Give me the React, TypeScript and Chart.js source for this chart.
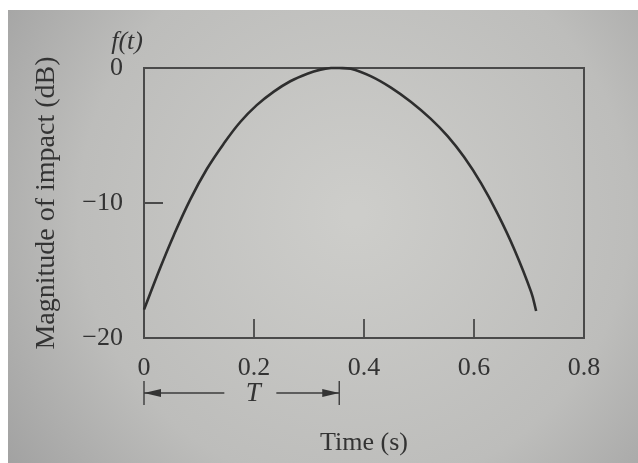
import React, { useEffect, useRef } from "react";
import { Chart, registerables } from "chart.js";

Chart.register(...registerables);

// ---- data ----
const timeS = [
  0, 0.029, 0.054, 0.084, 0.114, 0.145, 0.175, 0.205, 0.236, 0.266, 0.297, 0.321,
  0.34, 0.355, 0.376, 0.412, 0.449, 0.485, 0.521, 0.552, 0.582, 0.613, 0.643,
  0.673, 0.704, 0.713,
];
const magnitudeDb = [
  -17.9, -14.85, -12.4, -9.75, -7.5, -5.6, -4.0, -2.75, -1.75, -0.98, -0.42, -0.12,
  0, 0, -0.05, -0.6, -1.45, -2.5, -3.75, -5.05, -6.6, -8.55, -10.8, -13.4,
  -16.6, -18.0,
];
const xTicks = [0, 0.2, 0.4, 0.6, 0.8];
const yTicks = [0, -10, -20];
const T_PEAK = 0.355;
const xTitle = "Time (s)";
const yTitle = "Magnitude of impact (dB)";
const fLabel = "f(t)";
const tLabel = "T";

const INK = "#333333";
const SERIF = '"Liberation Serif", "DejaVu Serif", serif';

const bgPlugin = {
  id: "bgPhoto",
  beforeDraw(chart: any) {
    const { ctx, width, height } = chart;
    const g = ctx.createRadialGradient(width * 0.55, height * 0.45, 10, width * 0.55, height * 0.45, width * 0.72);
    g.addColorStop(0, "#cdcdca");
    g.addColorStop(0.6, "#bdbdbb");
    g.addColorStop(1, "#9d9d9d");
    ctx.save();
    ctx.fillStyle = g;
    ctx.fillRect(0, 0, width, height);
    ctx.restore();
  },
};

const framePlugin = {
  id: "frameTicks",
  beforeDatasetsDraw(chart: any) {
    const { ctx, chartArea: a, scales } = chart;
    ctx.save();
    ctx.strokeStyle = "#4a4a4a";
    ctx.lineWidth = 2;
    ctx.strokeRect(a.left, a.top, a.right - a.left, a.bottom - a.top);
    ctx.lineWidth = 1.8;
    ctx.beginPath();
    xTicks.forEach((v) => {
      const px = scales.x.getPixelForValue(v);
      ctx.moveTo(px, a.bottom);
      ctx.lineTo(px, a.bottom - 19);
    });
    yTicks.forEach((v) => {
      const py = scales.y.getPixelForValue(v);
      ctx.moveTo(a.left, py);
      ctx.lineTo(a.left + 19, py);
    });
    ctx.stroke();
    ctx.restore();
  },
};

const annotPlugin = {
  id: "annot",
  afterDraw(chart: any) {
    const { ctx, chartArea: a, scales } = chart;
    ctx.save();
    ctx.fillStyle = INK;
    ctx.strokeStyle = "#3c3c3c";
    // f(t) label
    ctx.font = `italic 26px ${SERIF}`;
    ctx.textAlign = "right";
    ctx.textBaseline = "middle";
    ctx.fillText(fLabel, a.left - 1, a.top - 26);

    // T arrow
    const y = a.bottom + 55;
    const x0 = scales.x.getPixelForValue(0);
    const x1 = scales.x.getPixelForValue(T_PEAK);
    const tx = x0 + (x1 - x0) * 0.56;
    ctx.lineWidth = 1.4;
    ctx.beginPath();
    ctx.moveTo(x0, y - 12);
    ctx.lineTo(x0, y + 12);
    ctx.moveTo(x1, y - 12);
    ctx.lineTo(x1, y + 12);
    ctx.moveTo(x0, y);
    ctx.lineTo(tx - 29, y);
    ctx.moveTo(tx + 23, y);
    ctx.lineTo(x1, y);
    ctx.stroke();
    ctx.beginPath();
    ctx.moveTo(x0, y);
    ctx.lineTo(x0 + 17, y - 4);
    ctx.lineTo(x0 + 17, y + 4);
    ctx.closePath();
    ctx.moveTo(x1, y);
    ctx.lineTo(x1 - 17, y - 4);
    ctx.lineTo(x1 - 17, y + 4);
    ctx.closePath();
    ctx.fill();
    ctx.font = `italic 27px ${SERIF}`;
    ctx.textAlign = "center";
    ctx.fillText(tLabel, tx, y + 1);
    ctx.restore();
  },
};

export default function App() {
  const ref = useRef<HTMLCanvasElement | null>(null);

  useEffect(() => {
    if (!ref.current) return;
    const chart = new Chart(ref.current, {
      type: "line",
      data: {
        datasets: [
          {
            data: timeS.map((t, i) => ({ x: t, y: magnitudeDb[i] })),
            borderColor: "#2e2e2e",
            borderWidth: 2.6,
            pointRadius: 0,
            tension: 0.4,
            fill: false,
            clip: false as any,
          },
        ],
      },
      options: {
        animation: false,
        responsive: false,
        layout: { padding: { top: 58, right: 54, left: 0, bottom: 0 } },
        plugins: { legend: { display: false }, tooltip: { enabled: false } },
        scales: {
          x: {
            type: "linear",
            min: 0,
            max: 0.8,
            grid: { display: false },
            border: { display: false },
            afterBuildTicks: (s: any) => {
              s.ticks = xTicks.map((v) => ({ value: v }));
            },
            afterFit: (s: any) => {
              s.height = 125;
            },
            ticks: {
              padding: 7,
              color: INK,
              font: { family: SERIF, size: 26 },
              callback: (v: any) => (Number(v) === 0 ? "0" : Number(v).toFixed(1)),
            },
            title: {
              display: true,
              text: xTitle,
              color: INK,
              font: { family: SERIF, size: 26, lineHeight: 1 },
              padding: { top: 0, bottom: 7 },
            },
          },
          y: {
            type: "linear",
            min: -20,
            max: 0,
            grid: { display: false },
            border: { display: false },
            afterBuildTicks: (s: any) => {
              s.ticks = yTicks.map((v) => ({ value: v }));
            },
            afterFit: (s: any) => {
              s.width = 136;
            },
            ticks: {
              padding: 13,
              color: INK,
              font: { family: SERIF, size: 26 },
              callback: (v: any) => (Number(v) < 0 ? "\u2212" + Math.abs(Number(v)) : "0"),
            },
            title: {
              display: true,
              text: yTitle,
              color: INK,
              font: { family: SERIF, size: 28, lineHeight: 1 },
              padding: { top: 25, bottom: 0 },
            },
          },
        },
      },
      plugins: [bgPlugin, framePlugin, annotPlugin],
    } as any);
    return () => chart.destroy();
  }, []);

  return (
    <div style={{ position: "absolute", left: 8, top: 10, width: 630, height: 453 }}>
      <canvas ref={ref} width={630} height={453} style={{ display: "block", width: 630, height: 453 }} />
    </div>
  );
}
